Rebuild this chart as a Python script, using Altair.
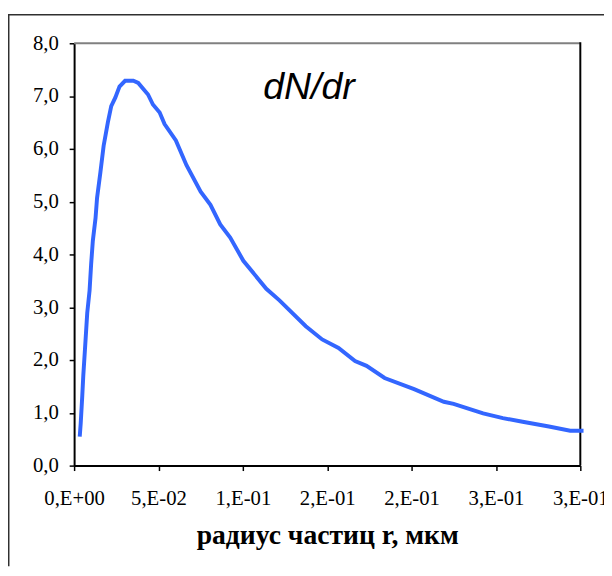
import altair as alt
import pandas as pd

# ---- data ----
r_um = [0.00333, 0.00391, 0.00485, 0.00543, 0.00643, 0.00777, 0.00917, 0.0101, 0.0111,
        0.0127, 0.0136, 0.0156, 0.0175, 0.0200, 0.0220, 0.0244, 0.0269, 0.0302, 0.0351,
        0.0380, 0.0438, 0.0467, 0.0507, 0.0536, 0.0603, 0.0666, 0.0750, 0.0808, 0.0866,
        0.0925, 0.1003, 0.1139, 0.1217, 0.1373, 0.1470, 0.1567, 0.1665, 0.1733, 0.1840,
        0.2015, 0.2191, 0.2249, 0.2327, 0.2424, 0.2541, 0.2658, 0.2814, 0.2940, 0.3019]
dndr = [0.55, 0.80, 1.33, 1.70, 2.20, 2.89, 3.32, 3.82, 4.26,
        4.69, 5.07, 5.56, 6.06, 6.50, 6.81, 6.97, 7.18, 7.29, 7.29,
        7.25, 7.03, 6.84, 6.69, 6.47, 6.16, 5.69, 5.19, 4.94, 4.57,
        4.32, 3.88, 3.35, 3.13, 2.64, 2.39, 2.23, 1.98, 1.89, 1.66,
        1.45, 1.21, 1.17, 1.09, 0.99, 0.90, 0.83, 0.74, 0.66, 0.66]

x_ticks = [0.0, 0.05, 0.1, 0.15, 0.2, 0.25, 0.3]
x_tick_labels = ["0,E+00", "5,E-02", "1,E-01", "2,E-01", "2,E-01", "3,E-01", "3,E-01"]
y_ticks = [0, 1, 2, 3, 4, 5, 6, 7, 8]
x_title = "радиус частиц r, мкм"

annot_text = ["dN/dr"]
annot_r = [0.1392]
annot_v = [6.94]

W, H = 513, 428
SERIF = "Liberation Serif"

df = pd.DataFrame({"r": r_um, "v": dndr})
df_annot = pd.DataFrame({"r": annot_r, "v": annot_v, "t": annot_text})
dummy = pd.DataFrame({"a": [0]})

# label expression mapping tick values to Excel-style labels
expr = "''"
for val, lab in reversed(list(zip(x_ticks, x_tick_labels))):
    expr = f"abs(datum.value - {val}) < 0.001 ? '{lab}' : ({expr})"

x_scale = alt.Scale(domain=[0, 0.3], nice=False, zero=False)
y_scale = alt.Scale(domain=[0, 8], nice=False)

line = alt.Chart(df).mark_line(color="#3366FF", strokeWidth=4, clip=False).encode(
    x=alt.X("r:Q", scale=x_scale,
            axis=alt.Axis(values=x_ticks, labelExpr=expr, title=x_title,
                          labelFont=SERIF, labelFontSize=21, labelColor="black",
                          labelPadding=17, labelOverlap=False, labelBound=False,
                          labelFlush=False,
                          titleX=W / 2, titleY=79, titleAlign="center",
                          titleBaseline="alphabetic", titleFont=SERIF,
                          titleFontSize=28, titleFontWeight="bold", titleColor="black")),
    y=alt.Y("v:Q", scale=y_scale,
            axis=alt.Axis(values=y_ticks,
                          labelExpr="replace(format(datum.value, '.1f'), '.', ',')",
                          labelFont=SERIF, labelFontSize=21, labelColor="black",
                          title=None, labelPadding=11, labelOverlap=False)),
)

annot = alt.Chart(df_annot).mark_text(
    font="Liberation Sans", fontStyle="italic", fontSize=38, align="center",
    baseline="alphabetic", color="black"
).encode(x=alt.X("r:Q", scale=x_scale), y=alt.Y("v:Q", scale=y_scale), text="t:N")

top_border = alt.Chart(dummy).mark_rule(color="#808080", strokeWidth=2).encode(
    x=alt.value(0), x2=alt.value(W), y=alt.value(0))
right_border = alt.Chart(dummy).mark_rule(color="black", strokeWidth=2).encode(
    x=alt.value(W), y=alt.value(-1), y2=alt.value(H))

outer_top = alt.Chart(dummy).mark_rule(color="#303030", strokeWidth=1.5).encode(
    x=alt.value(-67), x2=alt.value(537), y=alt.value(-29))
outer_left = alt.Chart(dummy).mark_rule(color="#303030", strokeWidth=1.5).encode(
    x=alt.value(-66.25), y=alt.value(-29), y2=alt.value(530))

chart = alt.layer(top_border, right_border, outer_top, outer_left, line, annot).properties(
    width=W, height=H,
    padding={"left": 67, "top": 32, "right": 24, "bottom": 100},
    autosize=alt.AutoSizeParams(type="none"),
    background="white",
).configure_view(stroke=None).configure_axis(
    domainColor="black", domainWidth=2, tickColor="black", tickWidth=1.5, tickSize=5,
    grid=False, labelFont=SERIF, labelFontSize=21, labelColor="black",
    titleColor="black"
)

chart.save("out.html", embed_options={"renderer": "svg", "actions": False})
